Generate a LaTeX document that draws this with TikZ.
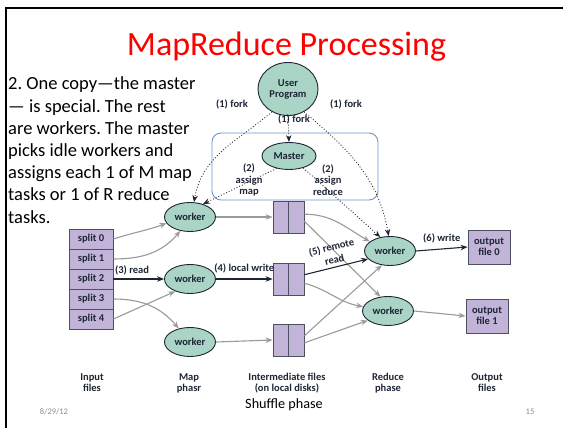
\documentclass[tikz,border=0pt]{standalone}
\usepackage{fontspec}
\setmainfont{Carlito}
\usetikzlibrary{positioning,shapes.geometric,arrows.meta}
\definecolor{wkfill}{HTML}{A9D4C6}
\definecolor{boxfill}{HTML}{C2B3D9}
\definecolor{linkgray}{HTML}{9A9A9A}
\definecolor{inkdark}{HTML}{1E2636}
\definecolor{frameblue}{HTML}{6A96CC}
\definecolor{slidegray}{HTML}{8C8C8C}
\frenchspacing
\begin{document}
\begin{tikzpicture}[x=1pt, y=1pt, >={Stealth[length=7pt,width=5.5pt]},
	lbl/.style={font=\fontsize{10.5}{11}\selectfont\bfseries, text=inkdark, inner sep=0pt, align=center},
	wk/.style={lbl, ellipse, draw=inkdark, fill=wkfill, line width=0.9pt, minimum width=51, minimum height=29},
	splitbox/.style={lbl, rectangle, draw=inkdark!80, fill=boxfill, line width=0.9pt, minimum width=44, minimum height=20},
	outbox/.style={lbl, rectangle, draw=inkdark!80, fill=boxfill, line width=0.9pt, minimum width=42, minimum height=34},
	imfile/.style={rectangle, draw=inkdark!80, fill=boxfill, line width=0.9pt, minimum width=31, minimum height=32, inner sep=0pt,
		path picture={\draw[inkdark!80, line width=0.9pt] (path picture bounding box.north) -- (path picture bounding box.south);}},
	graylink/.style={->, linkgray, line width=1.1pt},
	blacklink/.style={->, inkdark, line width=1.1pt},
	dotlink/.style={->, inkdark, dotted, line width=0.9pt},
]
	\useasboundingbox (0,0) rectangle (563,428);
	% slide frame
	\draw[line width=2.6pt] (5,420) -- (563,420);
	\draw[line width=2.6pt] (6,421.3) -- (6,0);

	\node[text=red, anchor=base, inner sep=0pt, font=\fontsize{34}{40}\selectfont] (title) at (286.5,372) {MapReduce Processing};
	\foreach \txt [count=\k from 0] in {2. One copy—the master, — is special. The rest, are workers. The master,
			picks idle workers and, assigns each 1 of M map, tasks or 1 of R reduce, tasks.}
		\node[anchor=base west, inner sep=0pt, font=\fontsize{18.5}{22.2}\selectfont] (note\k) at (8,338-22.2*\k) {\txt};

	% master box
	\draw[frameblue, line width=0.9pt, rounded corners=9pt] (212,295) rectangle (378,228);

	% nodes
	\node[wk, minimum width=60, minimum height=53] (user) at (288,339) {User\\Program};
	\node[wk, minimum width=54, minimum height=27] (master) at (289,272) {Master};
	\foreach \i in {0,...,4}
		\node[splitbox] (s\i) at (91,189-20*\i) {split \i};
	\node[wk] (m0) at (190,211) {worker};
	\node[wk] (m1) at (190,149) {worker};
	\node[wk] (m2) at (190,86) {worker};
	\node[imfile] (i0) at (288.5,211) {};
	\node[imfile] (i1) at (288.5,149) {};
	\node[imfile] (i2) at (288.5,88) {};
	\node[wk] (r0) at (390,177) {worker};
	\node[wk] (r1) at (388,117) {worker};
	\node[outbox] (o0) at (489,181) {output\\file 0};
	\node[outbox] (o1) at (487,112) {output\\file 1};

	% fork and assign
	\draw[dotlink] (user.south) -- (master.north);
	\draw[dotlink] (user.235) to[out=220,in=80] (m0.75);
	\draw[dotlink] (user.-55) to[out=-40,in=100] (r0.95);
	\draw[dotlink] (master.225) -- (m0.45);
	\draw[dotlink] (master.-40) -- (r0.125);
	\node[lbl] (fork0) at (232,324) {(1) fork};
	\node[lbl] (fork1) at (294,309) {(1) fork};
	\node[lbl] (fork2) at (346,324) {(1) fork};
	\node[lbl, font=\fontsize{10.5}{11.3}\selectfont\bfseries] (amap) at (249,248) {(2)\\assign\\map};
	\node[lbl, font=\fontsize{10.5}{11.3}\selectfont\bfseries] (ared) at (328,248) {(2)\\assign\\reduce};

	% map side
	\draw[graylink] (s0.east) to[out=18,in=200] (m0.195);
	\draw[graylink] (s1.east) to[out=0,in=230] (m0.235);
	\draw[blacklink] (s2.east) -- (m1.west);
	\draw[graylink] (s3.east) to[out=0,in=130] (m2.130);
	\draw[graylink] (s4.east) -- (m1.220);
	\node[lbl] (read) at (132,158) {(3) read};
	\draw[graylink] (m0.east) -- (i0.west);
	\draw[blacklink] (m1.east) -- node[lbl, above=5pt] (lwrite) {(4) local write} (i1.west);
	\draw[graylink] (m2.east) -- (i2.west);

	% reduce side
	\draw[graylink] (i0.10) to[out=0,in=150] (r0.155);
	\draw[graylink] (i0.-15) -- (r1.118);
	\draw[blacklink] (i1.15) -- node[lbl, sloped, above=3pt, font=\fontsize{10.5}{13}\selectfont\bfseries] (rread) {(5) remote\\read} (r0.200);
	\draw[graylink] (i1.-15) to[out=-15,in=170] (r1.170);
	\draw[graylink] (i2.15) -- (r0.240);
	\draw[graylink] (i2.-10) -- (r1.205);
	\draw[blacklink] (r0.east) -- node[lbl, above=5pt] (write) {(6) write} (o0.west);
	\draw[graylink] (r1.east) -- (o1.west);

	% phase captions
	\node[lbl] (capin) at (92,45) {Input\\files};
	\node[lbl] (capmap) at (189,45) {Map\\phasr};
	\node[lbl] (capmid) at (287,45) {Intermediate files\\(on local disks)};
	\node[lbl] (capred) at (388,45) {Reduce\\phase};
	\node[lbl] (capout) at (487,45) {Output\\files};
	\node[font=\fontsize{14.2}{16}\selectfont] (shuffle) at (284,23) {Shuffle phase};
	\node[text=slidegray, font=\fontsize{8.5}{10}\selectfont] (date) at (54,16) {8/29/12};
	\node[text=slidegray, font=\fontsize{8.5}{10}\selectfont] (pageno) at (530,16) {15};
\end{tikzpicture}
\end{document}
